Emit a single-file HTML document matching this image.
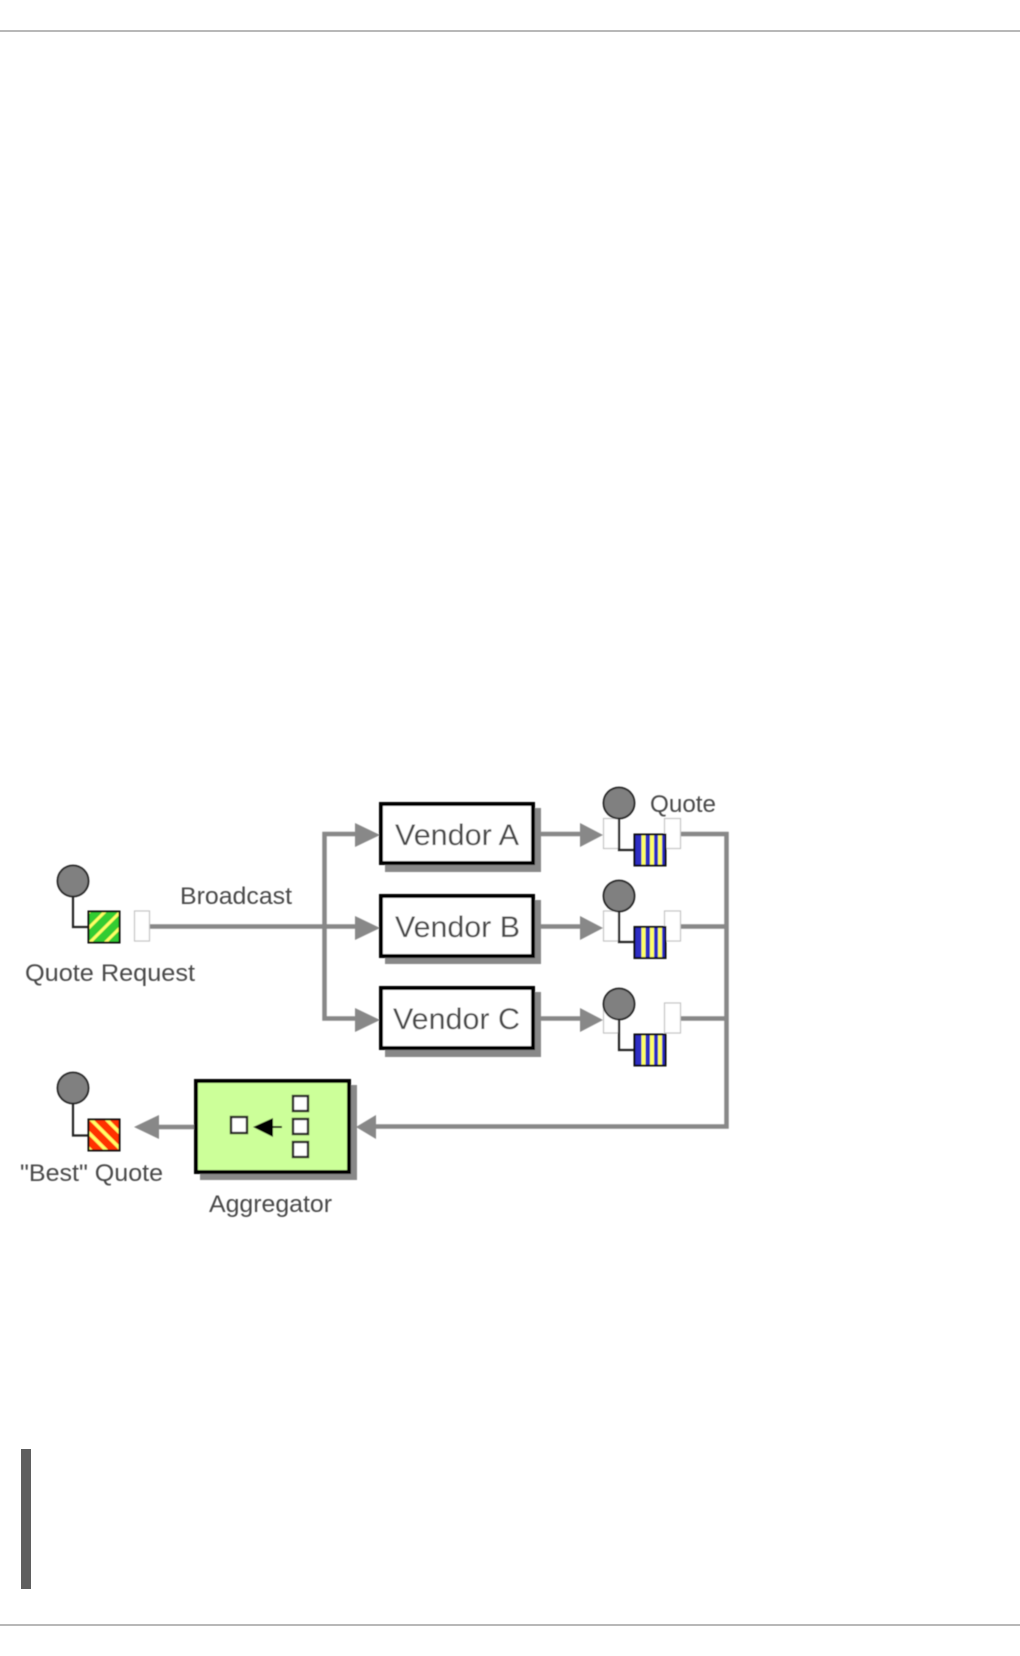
<!DOCTYPE html>
<html><head><meta charset="utf-8"><style>
html,body{margin:0;padding:0;background:#fff;width:1020px;height:1656px;overflow:hidden}
svg{display:block}
text{font-family:"Liberation Sans",sans-serif;fill:#4a4a4a}
</style></head><body>
<svg width="1020" height="1656" viewBox="0 0 1020 1656" xmlns="http://www.w3.org/2000/svg">
<defs>
<pattern id="g" width="11" height="11" patternUnits="userSpaceOnUse" patternTransform="rotate(45 88 911)"><rect width="11" height="11" fill="#33cc33"/><rect width="3" height="11" fill="#ffff66"/></pattern>
<pattern id="r" width="11" height="11" patternUnits="userSpaceOnUse" patternTransform="rotate(-45 88 1119)"><rect width="11" height="11" fill="#ff3300"/><rect width="3.5" height="11" fill="#ffff66"/></pattern>
<filter id="b" x="-2%" y="-2%" width="104%" height="104%"><feGaussianBlur stdDeviation="0.45"/></filter>
<g id="q"><rect x="634.5" y="0.5" width="31" height="31" fill="#2f2fc4"/><rect x="641.5" y="1" width="4" height="30" fill="#ffff66"/><rect x="650" y="1" width="4" height="30" fill="#ffff66"/><rect x="658" y="1" width="4" height="30" fill="#ffff66"/><rect x="634.5" y="0.5" width="31" height="31" fill="none" stroke="#111" stroke-width="2"/></g>
</defs>
<rect x="0" y="30" width="1020" height="2" fill="#b8b8b8"/>
<rect x="0" y="1624" width="1020" height="2" fill="#b8b8b8"/>
<rect x="21" y="1449" width="10" height="140" fill="#5f5f5f"/>
<g filter="url(#b)">
<g fill="#fff" stroke="#c4c4c4" stroke-width="1.2">
<rect x="134.5" y="911" width="15" height="30"/>
<rect x="603.5" y="818.5" width="16" height="30"/>
<rect x="664.5" y="818.5" width="16" height="30"/>
<rect x="603.5" y="911" width="16" height="30"/>
<rect x="664.5" y="911" width="16" height="30"/>
<rect x="603.5" y="1003" width="16" height="30"/>
<rect x="664.5" y="1003" width="16" height="30"/>
</g>
<g fill="none" stroke="#888" stroke-width="4.5">
<path d="M150 926.5H358"/>
<path d="M358 834H324.5V1018.5H358"/>
<path d="M541 834H582M541 926.5H582M541 1018.5H582"/>
<path d="M681 834H726.5V1126.5H372"/>
<path d="M681 926.5H726M681 1018.5H726"/>
<path d="M194 1127H158"/>
</g>
<g fill="#888">
<path d="M355 823L380 835L355 847Z"/>
<path d="M355 916L380 928L355 940Z"/>
<path d="M355 1008L380 1020L355 1032Z"/>
<path d="M580 823L603 835L580 847Z"/>
<path d="M580 916L603 928L580 940Z"/>
<path d="M580 1008L603 1020L580 1032Z"/>
<path d="M159 1115L134 1127L159 1139Z"/>
<path d="M376 1115L356 1127L376 1139Z"/>
</g>
<g fill="#888"><rect x="385" y="808" width="156" height="64"/><rect x="385" y="900" width="156" height="64"/><rect x="385" y="992" width="156" height="65"/><rect x="200" y="1085" width="157" height="95"/></g>
<g fill="#fff" stroke="#000" stroke-width="4">
<rect x="381" y="804" width="152" height="59"/>
<rect x="381" y="896" width="152" height="60"/>
<rect x="381" y="988" width="152" height="60"/>
</g>
<rect x="196" y="1081" width="153" height="91" fill="#ccff99" stroke="#000" stroke-width="4"/>
<g fill="#fff" stroke="#222" stroke-width="2.4">
<rect x="231" y="1117" width="16" height="16"/>
<rect x="293" y="1096" width="15" height="15"/>
<rect x="293" y="1119" width="15" height="15"/>
<rect x="293" y="1142" width="15" height="15"/>
</g>
<path d="M253 1127L273 1118V1137Z" fill="#000"/>
<path d="M270 1127H282" stroke="#000" stroke-width="2"/>
<g fill="none" stroke="#222" stroke-width="2.2">
<path d="M73 895V927H89"/>
<path d="M73 1102V1135.5H89"/>
<path d="M619 818V850H635"/>
<path d="M619 911V942H635"/>
<path d="M619 1018V1050H635"/>
</g>
<g fill="#808080" stroke="#222" stroke-width="1.8">
<circle cx="73" cy="881" r="15.5"/>
<circle cx="73" cy="1088" r="15.5"/>
<circle cx="619" cy="803" r="15.5"/>
<circle cx="619" cy="896" r="15.5"/>
<circle cx="619" cy="1004" r="15.5"/>
</g>
<rect x="88.5" y="911.5" width="31" height="31" fill="url(#g)" stroke="#111" stroke-width="2"/>
<rect x="88.5" y="1119.5" width="31" height="31" fill="url(#r)" stroke="#111" stroke-width="2"/>
<use href="#q" x="0" y="834"/>
<use href="#q" x="0" y="926.5"/>
<use href="#q" x="0" y="1034"/>
<text x="180" y="904" font-size="24" textLength="112" lengthAdjust="spacingAndGlyphs">Broadcast</text>
<text x="25" y="981" font-size="24" textLength="170" lengthAdjust="spacingAndGlyphs">Quote Request</text>
<text x="650" y="812" font-size="24" textLength="66" lengthAdjust="spacingAndGlyphs">Quote</text>
<text x="20" y="1181" font-size="24" textLength="143" lengthAdjust="spacingAndGlyphs">"Best" Quote</text>
<text x="209" y="1212" font-size="24" textLength="123" lengthAdjust="spacingAndGlyphs">Aggregator</text>
<text x="395" y="845" font-size="30" textLength="124" lengthAdjust="spacingAndGlyphs">Vendor A</text>
<text x="395" y="937" font-size="30" textLength="125" lengthAdjust="spacingAndGlyphs">Vendor B</text>
<text x="393" y="1029" font-size="30" textLength="127" lengthAdjust="spacingAndGlyphs">Vendor C</text>
</g>
</svg>
</body></html>
